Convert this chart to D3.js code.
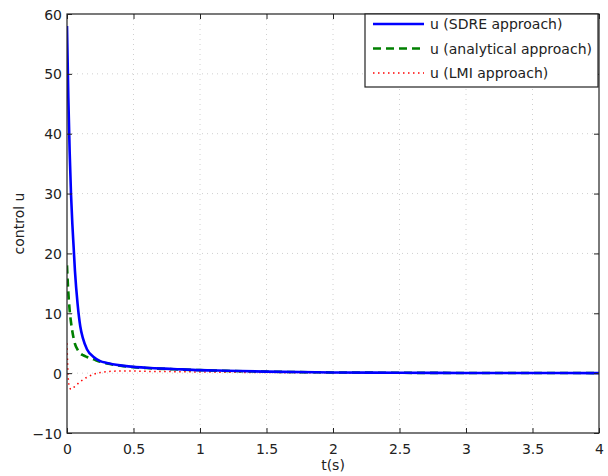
<!DOCTYPE html>
<html>
<head>
<meta charset="utf-8">
<script src="https://cdn.jsdelivr.net/npm/d3@7"></script>
<style>
html,body{margin:0;padding:0;background:#fff;}
svg{display:block;}
text{font-family:"DejaVu Sans",sans-serif;fill:#222;}
</style>
</head>
<body>
<svg id="chart" width="608" height="476"></svg>
<script>
// Time samples (s)
const tValues = [0, 0.005, 0.01, 0.02, 0.03, 0.04, 0.05, 0.06, 0.08, 0.1, 0.12, 0.15, 0.2, 0.25, 0.3, 0.4, 0.5, 0.6, 0.8, 1.0, 1.2, 1.5, 2.0, 2.5, 3.0, 3.5, 4.0];
// Control u for each approach
const uSDRE = [58, 52, 46, 37, 30, 25, 21, 17, 11.5, 7.8, 5.8, 4.0, 2.7, 2.0, 1.7, 1.3, 1.05, 0.9, 0.7, 0.5, 0.4, 0.25, 0.12, 0.06, 0.03, 0.02, 0.01];
const uAnalytical = [18, 15.5, 13.5, 10.5, 8.5, 7, 5.8, 4.9, 3.9, 3.3, 3.0, 2.7, 2.3, 1.9, 1.6, 1.25, 1.0, 0.85, 0.65, 0.5, 0.38, 0.25, 0.12, 0.06, 0.03, 0.02, 0.01];
const uLMI = [5, 1.5, -1, -2.4, -2.7, -2.6, -2.4, -2.2, -1.8, -1.4, -1.1, -0.7, -0.2, 0.1, 0.25, 0.35, 0.35, 0.3, 0.25, 0.2, 0.15, 0.1, 0.05, 0.03, 0.02, 0.01, 0];
const seriesNames = ["u (SDRE approach)", "u (analytical approach)", "u (LMI approach)"];
const xTicks = [0, 0.5, 1, 1.5, 2, 2.5, 3, 3.5, 4];
const yTicks = [-10, 0, 10, 20, 30, 40, 50, 60];

const svg = d3.select("#chart");
const m = {left: 67, top: 14, right: 599, bottom: 433};
const x = d3.scaleLinear().domain([0, 4]).range([m.left, m.right]);
const y = d3.scaleLinear().domain([-10, 60]).range([m.bottom, m.top]);

// grid
const grid = svg.append("g");
grid.selectAll(".gx").data(xTicks.slice(1, -1)).enter().append("line")
  .attr("x1", d => x(d)).attr("x2", d => x(d)).attr("y1", m.top).attr("y2", m.bottom)
  .attr("stroke", "#d0d0d0").attr("stroke-width", 1).attr("stroke-dasharray", "1,4");
grid.selectAll(".gy").data(yTicks.slice(1, -1)).enter().append("line")
  .attr("y1", d => y(d)).attr("y2", d => y(d)).attr("x1", m.left).attr("x2", m.right)
  .attr("stroke", "#d0d0d0").attr("stroke-width", 1).attr("stroke-dasharray", "1,4");

// lines
const styles = [
  {color: "#0000ff", width: 2.6, dash: null},
  {color: "#008000", width: 2.6, dash: "8,5"},
  {color: "#ff0000", width: 1.5, dash: "1.5,3.5"}
];
const seriesVals = [uSDRE, uAnalytical, uLMI];
svg.append("clipPath").attr("id", "clip").append("rect")
  .attr("x", m.left).attr("y", m.top).attr("width", m.right - m.left).attr("height", m.bottom - m.top);
const line = d3.line().x(d => x(d[0])).y(d => y(d[1])).curve(d3.curveMonotoneX);
[2, 1, 0].forEach(i => {
  const data = tValues.map((t, k) => [t, seriesVals[i][k]]);
  svg.append("path").datum(data).attr("d", line)
    .attr("fill", "none").attr("stroke", styles[i].color).attr("stroke-width", styles[i].width)
    .attr("stroke-dasharray", styles[i].dash).attr("clip-path", "url(#clip)");
});

// axes box
svg.append("rect").attr("x", m.left).attr("y", m.top).attr("width", m.right - m.left).attr("height", m.bottom - m.top)
  .attr("fill", "none").attr("stroke", "#222").attr("stroke-width", 1.2);

const tl = 5;
const axB = d3.axisBottom(x).tickValues(xTicks).tickSize(-tl).tickPadding(14).tickFormat(d3.format("~g"));
const gB = svg.append("g").attr("transform", `translate(0,${m.bottom})`).call(axB);
const gT = svg.append("g").attr("transform", `translate(0,${m.top})`).call(d3.axisTop(x).tickValues(xTicks).tickSize(-tl).tickFormat(""));
const axL = d3.axisLeft(y).tickValues(yTicks).tickSize(-tl).tickPadding(10).tickFormat(d => d < 0 ? "\u2212" + Math.abs(d) : d);
const gL = svg.append("g").attr("transform", `translate(${m.left},0)`).call(axL);
const gR = svg.append("g").attr("transform", `translate(${m.right},0)`).call(d3.axisRight(y).tickValues(yTicks).tickSize(-tl).tickFormat(""));
[gB, gT, gL, gR].forEach(g => {
  g.select(".domain").remove();
  g.selectAll(".tick line").attr("stroke", "#222");
  g.selectAll("text").attr("font-family", "DejaVu Sans").attr("font-size", 14).attr("fill", "#333");
});
gB.selectAll("text").attr("dy", null).attr("y", 21);
gL.selectAll("text").attr("x", -5).attr("dy", "0.36em");

// axis labels
svg.append("text").attr("x", (m.left + m.right) / 2).attr("y", 470).attr("text-anchor", "middle")
  .attr("font-size", 14).attr("fill", "#333").text("t(s)");
svg.append("text").attr("transform", `translate(24,${(m.top + m.bottom) / 2}) rotate(-90)`)
  .attr("text-anchor", "middle").attr("font-size", 14).attr("fill", "#333").text("control u");

// legend
const lg = svg.append("g");
lg.append("rect").attr("x", 365).attr("y", 14).attr("width", 233).attr("height", 73)
  .attr("fill", "#fff").attr("stroke", "#222").attr("stroke-width", 1.2);
const rowsY = [24, 48.5, 73];
seriesNames.forEach((name, i) => {
  lg.append("line").attr("x1", 373).attr("x2", 424).attr("y1", rowsY[i]).attr("y2", rowsY[i])
    .attr("stroke", styles[i].color).attr("stroke-width", styles[i].width).attr("stroke-dasharray", styles[i].dash);
  lg.append("text").attr("x", 430).attr("y", rowsY[i]).attr("dy", "0.36em").attr("font-size", 14).attr("fill", "#333").text(name);
});
</script>
</body>
</html>
